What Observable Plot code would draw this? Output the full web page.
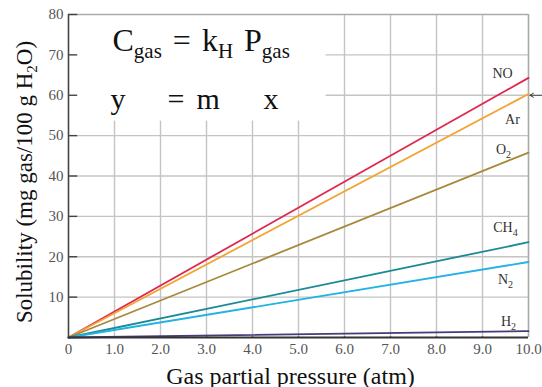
<!DOCTYPE html>
<html>
<head>
<meta charset="utf-8">
<script src="https://cdn.jsdelivr.net/npm/d3@7"></script>
<script src="https://cdn.jsdelivr.net/npm/@observablehq/plot@0.6"></script>
<style>
  html, body { margin: 0; padding: 0; background: #fff; }
  #chart { width: 542px; height: 387px; }
</style>
</head>
<body>
<div id="chart"></div>
<script>
// ---- data ----
const gases = ["NO", "Ar", "O2", "CH4", "N2", "H2"];
const pressureStart = [0, 0, 0, 0, 0, 0];
const pressureEnd = [10, 10, 10, 10, 10, 10];
const solubilityStart = [0, 0, 0, 0, 0, 0];
const solubilityEnd = [64.3, 60.3, 45.8, 23.6, 18.7, 1.6];
const xTicks = [0, 1, 2, 3, 4, 5, 6, 7, 8, 9, 10];
const xTickLabels = ["0", "1.0", "2.0", "3.0", "4.0", "5.0", "6.0", "7.0", "8.0", "9.0", "10.0"];
const yTicks = [10, 20, 30, 40, 50, 60, 70, 80];
const yGrid = [0, 10, 20, 30, 40, 50, 60, 70];
const xLabel = "Gas partial pressure (atm)";
const yLabel = "Solubility (mg gas/100 g H2O)";
const eqLine1 = "Cgas = kH Pgas";
const eqLine2Tokens = ["y", "=", "m", "x"];
const markedValue = [60];

// ---- styles / layout ----
const colors = ["#e0284f", "#f2a332", "#a8883a", "#1a8a94", "#22b2e4", "#4a3a78"];
const labelDx = [-26, -16, -25, -23, -23, -20];
const labelDy = [-4, 25, -3, -15, 18, -10];
const eqLine2Offsets = [0, 57, 86, 153];
const eqBox = {x1: 0, x2: 5.6, y1: 53.6, y2: 80};
const eqLine2 = eqLine2Tokens.join(" ");

const lines = [];
gases.forEach((g, i) => {
  lines.push({gas: g, x: pressureStart[i], y: solubilityStart[i], i});
  lines.push({gas: g, x: pressureEnd[i], y: solubilityEnd[i], i});
});
const ends = gases.map((g, i) => ({gas: g, x: pressureEnd[i], y: solubilityEnd[i], i}));

const plot = Plot.plot({
  width: 542,
  height: 387,
  marginLeft: 68,
  marginRight: 14,
  marginTop: 14,
  marginBottom: 50,
  style: {fontFamily: "'Liberation Serif', 'Times New Roman', serif", background: "#fff", color: "#333"},
  x: {domain: [0, 10]},
  y: {domain: [0, 80]},
  marks: [
    Plot.ruleX(xTicks.slice(1), {stroke: "#c4c4c4", strokeWidth: 1.4}),
    Plot.ruleY(yGrid.slice(1), {stroke: "#c4c4c4", strokeWidth: 1.4}),
    Plot.rect([eqBox], {x1: "x1", x2: "x2", y1: "y1", y2: "y2", fill: "#fff"}),
    Plot.ruleY([80], {stroke: "#aaa", strokeWidth: 1.4}),
    Plot.ruleX([10], {stroke: "#aaa", strokeWidth: 1.4}),
    // inward ticks
    Plot.ruleY(yTicks, {y: d => d, x1: 0, x2: 0.2, stroke: "#444", strokeWidth: 1.4}),
    Plot.ruleX(xTicks.slice(1, -1), {x: d => d, y1: 0, y2: 0.17, stroke: "#444", strokeWidth: 1.4}),
    Plot.axisY({ticks: yTicks, tickSize: 0, tickPadding: 5, fontSize: 15, label: null, color: "#555"}),
    Plot.axisX({ticks: xTicks, tickSize: 0, tickPadding: 6, fontSize: 15, label: null, color: "#555",
      tickFormat: d => xTickLabels[xTicks.indexOf(d)]}),
    Plot.line(lines, {x: "x", y: "y", z: "gas", stroke: d => colors[d.i], strokeWidth: 1.8}),
    Plot.ruleX([0], {stroke: "#444", strokeWidth: 1.6}),
    Plot.ruleY([0], {stroke: "#333", strokeWidth: 2.2}),
    Plot.text(ends, {x: "x", y: "y", text: "gas", fontSize: 14, fill: "#333",
      textAnchor: "middle", lineAnchor: "middle"}),
    Plot.arrow(markedValue, {x1: 10.3, x2: 10.03, y: d => d, stroke: "#333", strokeWidth: 1, headLength: 6, clip: false}),
    Plot.text([xLabel], {frameAnchor: "bottom", dx: -8, dy: 46, lineAnchor: "bottom", fontSize: 24, fill: "#111"}),
    Plot.text([yLabel], {frameAnchor: "left", dx: -37, dy: 6, rotate: -90, textAnchor: "middle", lineAnchor: "bottom", fontSize: 23, fill: "#111"}),
    Plot.text([eqLine1], {frameAnchor: "top-left", dx: 44, dy: 36, textAnchor: "start", lineAnchor: "bottom", fontSize: 32, fill: "#111"}),
    Plot.text([eqLine2], {frameAnchor: "top-left", dx: 42, dy: 94, textAnchor: "start", lineAnchor: "bottom", fontSize: 30, fill: "#111"})
  ]
});

document.getElementById("chart").appendChild(plot);

// ---- post-process: label offsets and subscripts ----
const svg = d3.select(plot);
function setSegments(el, segs, shift, subSize) {
  const t = d3.select(el);
  t.text(null);
  let sub = false;
  segs.forEach(([str, isSub]) => {
    const ts = t.append("tspan").text(str);
    if (isSub && !sub) { ts.attr("dy", shift).attr("font-size", subSize); sub = true; }
    else if (isSub) { ts.attr("font-size", subSize); }
    else if (!isSub && sub) { ts.attr("dy", -shift); sub = false; }
  });
}
svg.selectAll("text").each(function() {
  const s = this.textContent;
  const gi = gases.indexOf(s);
  if (gi >= 0 && !this.closest("[aria-label^='x-axis'],[aria-label^='y-axis']")) {
    const tr = this.getAttribute("transform") || "";
    d3.select(this).attr("transform", tr + ` translate(${labelDx[gi]},${labelDy[gi]})`);
    const m = s.match(/^([A-Za-z]+)(\d)$/);
    if (m) setSegments(this, [[m[1], false], [m[2], true]], 4, 10);
  } else if (s === yLabel) {
    setSegments(this, [["Solubility (mg gas/100 g H", false], ["2", true], ["O)", false]], 5, 15);
  } else if (s === eqLine1) {
    d3.select(this).style("word-spacing", "3px");
    setSegments(this, [["C", false], ["gas", true], [" = k", false], ["H", true], [" P", false], ["gas", true]], 7, 21);
  } else if (s === eqLine2) {
    const t = d3.select(this);
    t.text(null);
    eqLine2Tokens.forEach((tok, k) => t.append("tspan").attr("x", eqLine2Offsets[k]).text(tok));
  }
});
</script>
</body>
</html>
